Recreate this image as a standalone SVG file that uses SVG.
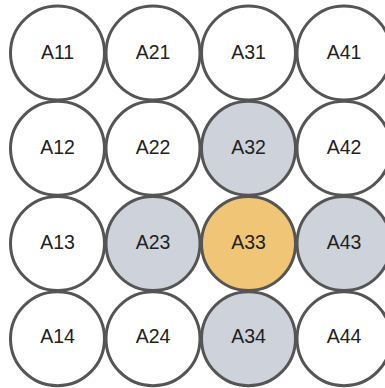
<svg xmlns="http://www.w3.org/2000/svg" width="385" height="388" viewBox="0 0 385 388">
<style>
circle{stroke:#555555;stroke-width:3;fill:#ffffff}
.g circle{fill:#cdd2db}
.o circle{fill:#f0c575}
text{font-family:"Liberation Sans",Arial,sans-serif;font-size:19.5px;fill:#222222;text-anchor:middle}
</style>
<rect width="385" height="388" fill="#ffffff"/>
<g id="A11"><circle cx="57.5" cy="53" r="47"/><text x="57.5" y="58.5">A11</text></g>
<g id="A21"><circle cx="153" cy="53" r="47"/><text x="153" y="58.5">A21</text></g>
<g id="A31"><circle cx="248.5" cy="53" r="47"/><text x="248.5" y="58.5">A31</text></g>
<g id="A41"><circle cx="344" cy="53" r="47"/><text x="344" y="58.5">A41</text></g>
<g id="A12"><circle cx="57.5" cy="148.3" r="47"/><text x="57.5" y="153.6">A12</text></g>
<g id="A22"><circle cx="153" cy="148.3" r="47"/><text x="153" y="153.6">A22</text></g>
<g id="A32" class="g"><circle cx="248.5" cy="148.3" r="47"/><text x="248.5" y="153.6">A32</text></g>
<g id="A42"><circle cx="344" cy="148.3" r="47"/><text x="344" y="153.6">A42</text></g>
<g id="A13"><circle cx="57.5" cy="243.5" r="47"/><text x="57.5" y="248.6">A13</text></g>
<g id="A23" class="g"><circle cx="153" cy="243.5" r="47"/><text x="153" y="248.6">A23</text></g>
<g id="A33" class="o"><circle cx="248.5" cy="243.5" r="47"/><text x="248.5" y="248.6">A33</text></g>
<g id="A43" class="g"><circle cx="344" cy="243.5" r="47"/><text x="344" y="248.6">A43</text></g>
<g id="A14"><circle cx="57.5" cy="338.7" r="47"/><text x="57.5" y="343.3">A14</text></g>
<g id="A24"><circle cx="153" cy="338.7" r="47"/><text x="153" y="343.3">A24</text></g>
<g id="A34" class="g"><circle cx="248.5" cy="338.7" r="47"/><text x="248.5" y="343.3">A34</text></g>
<g id="A44"><circle cx="344" cy="338.7" r="47"/><text x="344" y="343.3">A44</text></g>
<g id="connectors"></g>
</svg>
